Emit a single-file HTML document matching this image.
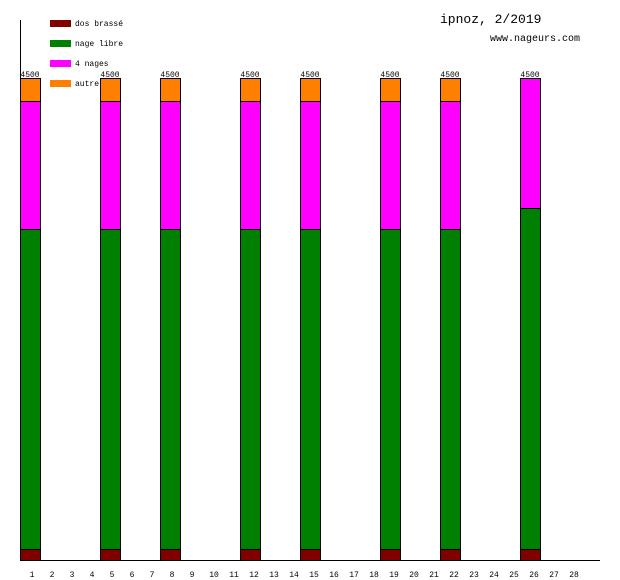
<!DOCTYPE html>
<html><head><meta charset="utf-8"><style>
html,body{margin:0;padding:0;background:#fff;}
svg{display:block;font-family:"Liberation Mono","DejaVu Sans Mono",monospace;}
</style></head><body>
<svg width="620" height="580" viewBox="0 0 620 580">
<line x1="20.5" y1="20" x2="20.5" y2="561" stroke="#000"/>
<line x1="20" y1="560.5" x2="600" y2="560.5" stroke="#000"/>
<g stroke="#000" stroke-width="1">
<g transform="translate(20,0)"><rect x="0.5" y="78.5" width="20" height="23" fill="#ff8000"/><rect x="0.5" y="101.5" width="20" height="128" fill="#ff00ff"/><rect x="0.5" y="229.5" width="20" height="320" fill="#008000"/><rect x="0.5" y="549.5" width="20" height="11" fill="#800000"/></g>
<g transform="translate(100,0)"><rect x="0.5" y="78.5" width="20" height="23" fill="#ff8000"/><rect x="0.5" y="101.5" width="20" height="128" fill="#ff00ff"/><rect x="0.5" y="229.5" width="20" height="320" fill="#008000"/><rect x="0.5" y="549.5" width="20" height="11" fill="#800000"/></g>
<g transform="translate(160,0)"><rect x="0.5" y="78.5" width="20" height="23" fill="#ff8000"/><rect x="0.5" y="101.5" width="20" height="128" fill="#ff00ff"/><rect x="0.5" y="229.5" width="20" height="320" fill="#008000"/><rect x="0.5" y="549.5" width="20" height="11" fill="#800000"/></g>
<g transform="translate(240,0)"><rect x="0.5" y="78.5" width="20" height="23" fill="#ff8000"/><rect x="0.5" y="101.5" width="20" height="128" fill="#ff00ff"/><rect x="0.5" y="229.5" width="20" height="320" fill="#008000"/><rect x="0.5" y="549.5" width="20" height="11" fill="#800000"/></g>
<g transform="translate(300,0)"><rect x="0.5" y="78.5" width="20" height="23" fill="#ff8000"/><rect x="0.5" y="101.5" width="20" height="128" fill="#ff00ff"/><rect x="0.5" y="229.5" width="20" height="320" fill="#008000"/><rect x="0.5" y="549.5" width="20" height="11" fill="#800000"/></g>
<g transform="translate(380,0)"><rect x="0.5" y="78.5" width="20" height="23" fill="#ff8000"/><rect x="0.5" y="101.5" width="20" height="128" fill="#ff00ff"/><rect x="0.5" y="229.5" width="20" height="320" fill="#008000"/><rect x="0.5" y="549.5" width="20" height="11" fill="#800000"/></g>
<g transform="translate(440,0)"><rect x="0.5" y="78.5" width="20" height="23" fill="#ff8000"/><rect x="0.5" y="101.5" width="20" height="128" fill="#ff00ff"/><rect x="0.5" y="229.5" width="20" height="320" fill="#008000"/><rect x="0.5" y="549.5" width="20" height="11" fill="#800000"/></g>
<g transform="translate(520,0)"><rect x="0.5" y="78.5" width="20" height="130" fill="#ff00ff"/><rect x="0.5" y="208.5" width="20" height="341" fill="#008000"/><rect x="0.5" y="549.5" width="20" height="11" fill="#800000"/></g>
</g>
<g font-size="8" text-anchor="middle" fill="#000">
<text x="30" y="77">4500</text><text x="110" y="77">4500</text><text x="170" y="77">4500</text><text x="250" y="77">4500</text><text x="310" y="77">4500</text><text x="390" y="77">4500</text><text x="450" y="77">4500</text><text x="530" y="77">4500</text>
</g>
<rect x="50" y="20" width="21" height="7" fill="#800000"/>
<rect x="50" y="40" width="21" height="7" fill="#008000"/>
<rect x="50" y="60" width="21" height="7" fill="#ff00ff"/>
<rect x="50" y="80" width="21" height="7" fill="#ff8000"/>
<g font-size="8" fill="#000">
<text x="75" y="26">dos brassé</text>
<text x="75" y="46">nage libre</text>
<text x="75" y="66">4 nages</text>
<text x="75" y="86">autre</text>
</g>
<text x="440" y="23" font-size="13" fill="#000">ipnoz, 2/2019</text>
<text x="490" y="41" font-size="10" fill="#000">www.nageurs.com</text>
<g font-size="8" text-anchor="middle" fill="#000">
<text x="32" y="577">1</text><text x="52" y="577">2</text><text x="72" y="577">3</text><text x="92" y="577">4</text><text x="112" y="577">5</text><text x="132" y="577">6</text><text x="152" y="577">7</text><text x="172" y="577">8</text><text x="192" y="577">9</text><text x="214" y="577">10</text><text x="234" y="577">11</text><text x="254" y="577">12</text><text x="274" y="577">13</text><text x="294" y="577">14</text><text x="314" y="577">15</text><text x="334" y="577">16</text><text x="354" y="577">17</text><text x="374" y="577">18</text><text x="394" y="577">19</text><text x="414" y="577">20</text><text x="434" y="577">21</text><text x="454" y="577">22</text><text x="474" y="577">23</text><text x="494" y="577">24</text><text x="514" y="577">25</text><text x="534" y="577">26</text><text x="554" y="577">27</text><text x="574" y="577">28</text>
</g>
</svg>
</body></html>
